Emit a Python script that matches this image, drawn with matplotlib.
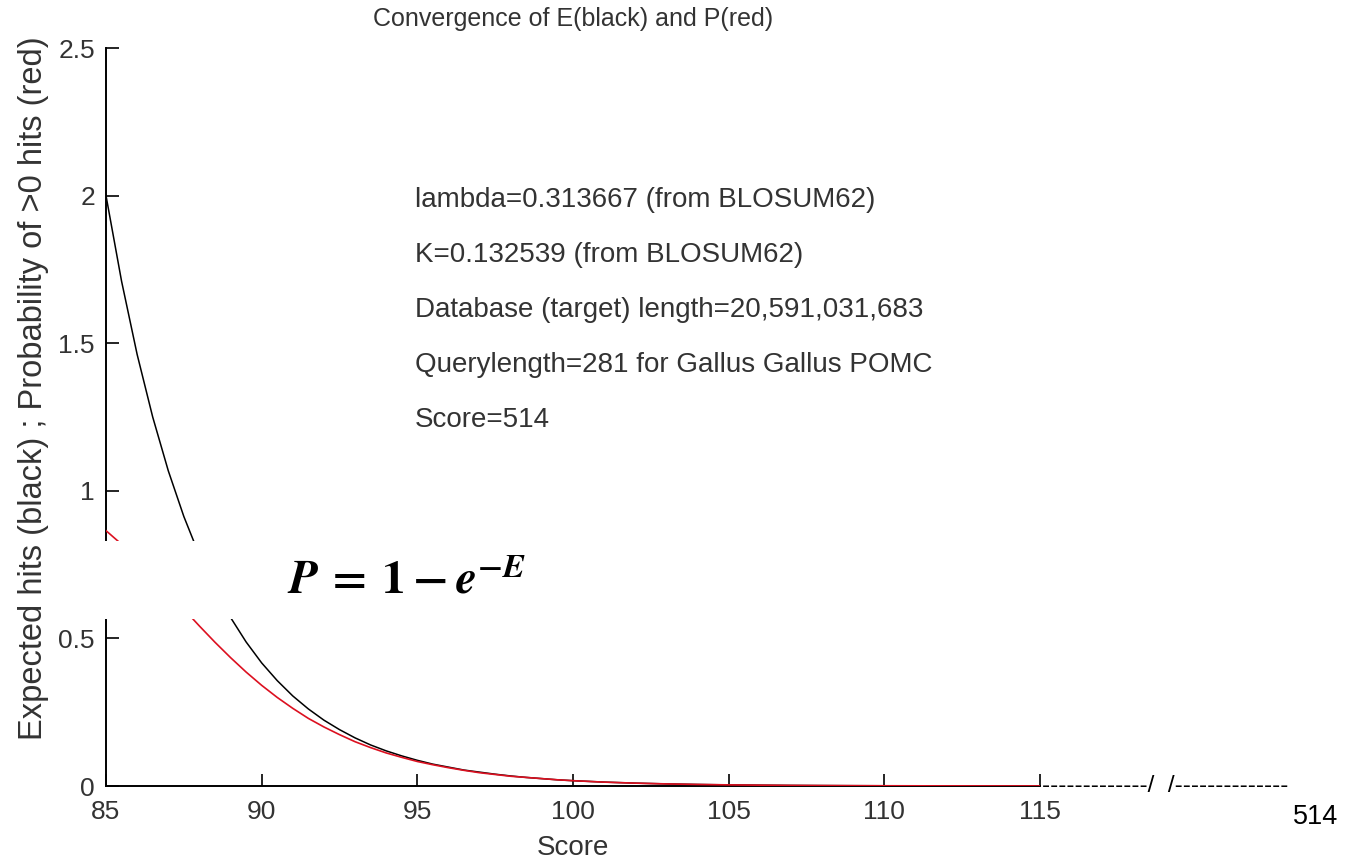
import matplotlib
matplotlib.use('Agg')
import matplotlib.pyplot as plt
from matplotlib.patches import Rectangle

plt.rcParams['font.family'] = ['Liberation Sans', 'DejaVu Sans']
plt.rcParams['mathtext.fontset'] = 'stix'

# scores and values
score = [85, 85.5, 86, 86.5, 87, 87.5, 88, 88.5, 89, 89.5, 90, 90.5, 91, 91.5,
         92, 92.5, 93, 93.5, 94, 94.5, 95, 95.5, 96, 96.5, 97, 97.5, 98, 98.5,
         99, 99.5, 100, 101, 102, 103, 104, 105, 106, 107, 108, 109, 110, 111,
         112, 113, 114, 115]
expected = [2.000, 1.710, 1.462, 1.250, 1.068, 0.913, 0.781, 0.668, 0.571, 0.488,
            0.417, 0.357, 0.305, 0.261, 0.223, 0.191, 0.163, 0.139, 0.119, 0.102,
            0.087, 0.074, 0.064, 0.054, 0.047, 0.040, 0.034, 0.029, 0.025, 0.021,
            0.018, 0.0132, 0.0097, 0.0071, 0.0052, 0.0038, 0.0028, 0.0020, 0.0015,
            0.0011, 0.0008, 0.0006, 0.0004, 0.0003, 0.0002, 0.0002]
prob = [0.865, 0.819, 0.768, 0.713, 0.656, 0.599, 0.542, 0.487, 0.435, 0.386,
        0.341, 0.300, 0.263, 0.229, 0.200, 0.174, 0.150, 0.130, 0.112, 0.097,
        0.083, 0.072, 0.062, 0.053, 0.045, 0.039, 0.033, 0.029, 0.025, 0.021,
        0.018, 0.0131, 0.0097, 0.0071, 0.0052, 0.0038, 0.0028, 0.0020, 0.0015,
        0.0011, 0.0008, 0.0006, 0.0004, 0.0003, 0.0002, 0.0002]

x_ticks = [85, 90, 95, 100, 105, 110, 115]
y_ticks = [0, 0.5, 1, 1.5, 2, 2.5]
y_tick_labels = ['0', '0.5', '1', '1.5', '2', '2.5']

notes = ['lambda=0.313667 (from BLOSUM62)',
         'K=0.132539 (from BLOSUM62)',
         'Database (target) length=20,591,031,683',
         'Querylength=281 for Gallus Gallus POMC',
         'Score=514']

W, H = 1351, 861
fig = plt.figure(figsize=(W / 100, H / 100), dpi=100)
ax = fig.add_axes([106 / W, 1 - 786 / H, (1040 - 106) / W, (786 - 48) / H])

ax.plot(score, expected, color='black', lw=1.1, zorder=3)
ax.plot(score, prob, color='#dc1020', lw=1.2, zorder=3)

ax.set_xlim(85, 115)
ax.set_ylim(0, 2.5)
ax.set_xticks(x_ticks)
ax.set_yticks(y_ticks)
ax.set_yticklabels(y_tick_labels)
ax.spines['top'].set_visible(False)
ax.spines['right'].set_visible(False)
for s in ['left', 'bottom']:
    ax.spines[s].set_linewidth(1.4)
ax.tick_params(direction='in', length=9, width=1.2, labelsize=19,
               labelcolor='#333333')
ax.tick_params(axis='y', pad=8)
ax.tick_params(axis='x', pad=10)

fig.text(573 / W, 1 - 19 / H, 'Convergence of E(black) and P(red)', ha='center',
         va='center', fontsize=18, color='#333333')
fig.text(573 / W, 1 - 848 / H, 'Score', ha='center', va='center', fontsize=20,
         color='#333333')
fig.text(34 / W, 1 - 388 / H, 'Expected hits (black) ; Probability of >0 hits (red)',
         rotation=90, ha='center', va='center', fontsize=23.5, color='#333333')

for i, t in enumerate(notes):
    fig.text(415 / W, 1 - (200 + 55 * i) / H, t, ha='left', va='center',
             fontsize=20, color='#333333')

# white patch with the formula laid over the plot
fig.patches.append(Rectangle((75 / W, 1 - 619 / H), 625 / W, 78 / H,
                             transform=fig.transFigure, facecolor='white',
                             edgecolor='none', zorder=5))
fig.text(287 / W, 1 - 582 / H,
         r'$\mathbfit{P}\mathbf{\:=\:}\mathbf{1}\mathbf{\:-\:}\mathbfit{e}^{\mathbf{-}\mathbfit{E}}$',
         ha='left', va='center', fontsize=34, zorder=6)

fig.text(1042 / W, 1 - 786 / H, '-------------/  /--------------', ha='left',
         va='center', fontsize=17.5, color='black')
fig.text(1316 / W, 1 - 817 / H, '514', ha='center', va='center', fontsize=19.5,
         color='black')

fig.savefig('out.png', dpi=100)
